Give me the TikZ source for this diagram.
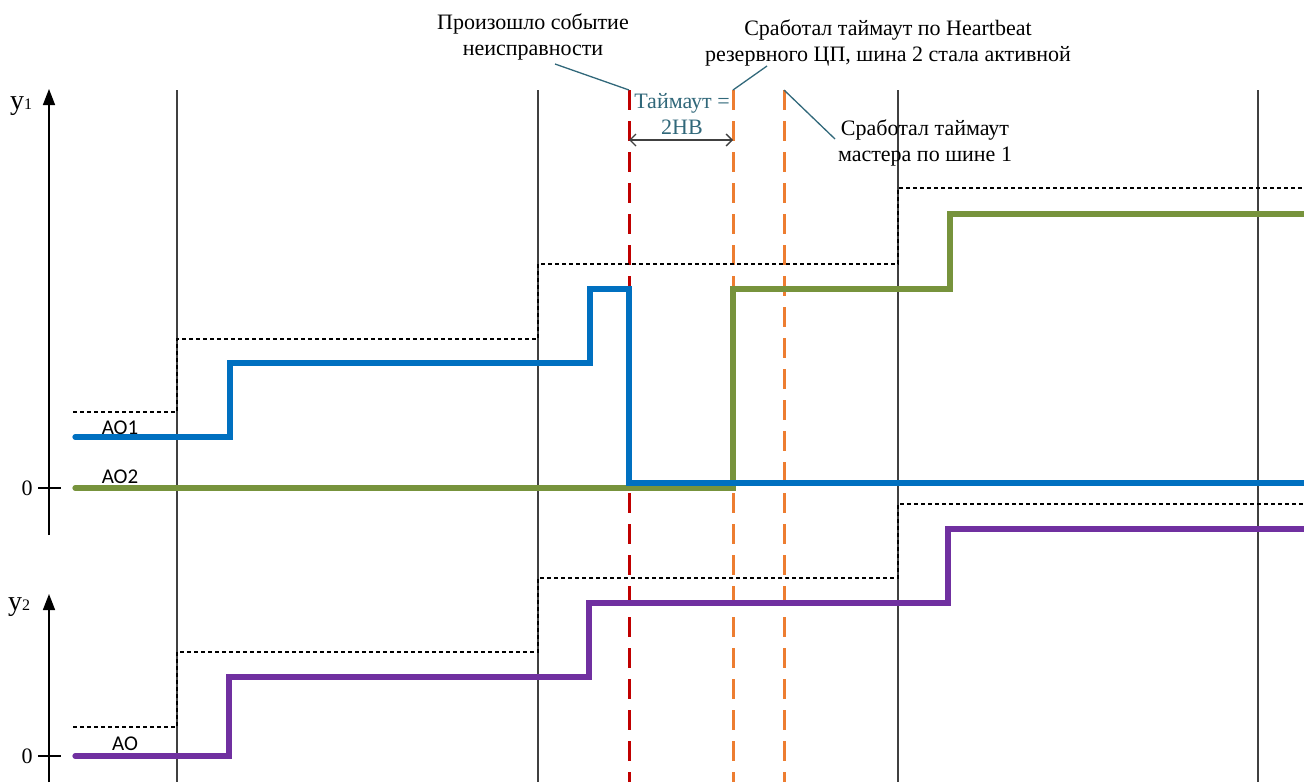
\documentclass[tikz,border=0pt]{standalone}
\usepackage{fontspec}
\setmainfont{Liberation Serif}
\newfontfamily\lblfont{Carlito}
\usetikzlibrary{arrows.meta}
\definecolor{aoblue}{HTML}{0070C0}
\definecolor{aogreen}{HTML}{77933C}
\definecolor{aopurple}{HTML}{7030A0}
\definecolor{evred}{HTML}{C00000}
\definecolor{evorange}{HTML}{ED7D31}
\definecolor{leadcol}{HTML}{31687A}
\definecolor{gridcol}{HTML}{404040}
\begin{document}
\begin{tikzpicture}[x=1pt,y=-1pt,
  gridline/.style={draw=gridcol,line width=1.5pt},
  axisline/.style={draw=black,line width=1.5pt,-{Triangle[length=16pt,width=12pt]}},
  tickline/.style={draw=black,line width=1.3pt},
  limitline/.style={draw=black,line width=2.8pt,dash pattern=on 4pt off 3pt},
  signal/.style={line width=5.2pt,line join=miter,line cap=round},
  eventline/.style={line width=3pt,dash pattern=on 20pt off 11pt},
  leader/.style={draw=leadcol,line width=1.3pt},
  note/.style={font=\fontsize{22}{26}\selectfont,align=center,inner sep=0pt},
  aolabel/.style={font=\lblfont\fontsize{21}{24}\selectfont,inner sep=0pt},
  axlabel/.style={font=\fontsize{28}{30}\selectfont,inner sep=0pt}]
\useasboundingbox (0,0) rectangle (1304,782);

% vertical grid lines
\foreach \gx in {177,538,898,1258}
  \draw[gridline] (\gx,90) -- (\gx,782);

% event dashed lines
\draw[eventline,draw=evred] (629,90) -- (629,782);
\draw[eventline,draw=evorange] (733,90) -- (733,782);
\draw[eventline,draw=evorange] (784,90) -- (784,782);

% axes
\coordinate (y1base) at (49,535);
\coordinate (y1top) at (49,89);
\coordinate (y2base) at (49,782);
\coordinate (y2top) at (49,594);
\draw[axisline] (y1base) -- (y1top);
\draw[axisline] (y2base) -- (y2top);
\draw[tickline] (38,488) -- (61,488);
\draw[tickline] (38,756) -- (61,756);
\node[axlabel,anchor=base west] (ylab1) at (10,109) {y{\fontsize{16}{16}\selectfont 1}};
\node[axlabel,anchor=base west] (ylab2) at (8,610) {y{\fontsize{16}{16}\selectfont 2}};
\node[note,anchor=base] (zero1) at (27,495) {0};
\node[note,anchor=base] (zero2) at (27,763) {0};

% limit (dotted) lines
\draw[limitline] (73,412) -- (177,412) -- (177,339) -- (538,339) -- (538,264)
  -- (898,264) -- (898,188) -- (1304,188);
\draw[limitline] (73,727) -- (177,727) -- (177,652) -- (538,652) -- (538,578)
  -- (898,578) -- (898,504) -- (1304,504);

% signals
\draw[signal,draw=aogreen] (75,488) -- (733,488) -- (733,289) -- (950,289)
  -- (950,214) -- (1306,214);
\draw[signal,draw=aoblue] (75,437) -- (230,437) -- (230,363) -- (590,363)
  -- (590,289) -- (629,289) -- (629,483) -- (1306,483);
\draw[signal,draw=aopurple] (75,756) -- (229,756) -- (229,677) -- (589,677)
  -- (589,603) -- (948,603) -- (948,529) -- (1306,529);

\node[aolabel,anchor=base] (ao1) at (120,434) {AO1};
\node[aolabel,anchor=base] (ao2) at (120,483) {AO2};
\node[aolabel,anchor=base] (ao) at (125,750) {AO};

% timeout annotation
\coordinate (tleft) at (629,140);
\coordinate (tright) at (733,140);
\draw[draw=black!75,line width=1.4pt,{Straight Barb[length=6pt,width=12pt]}-{Straight Barb[length=6pt,width=12pt]}] (tleft) -- (tright);
\node[note,text=leadcol,anchor=base] (tmo) at (682,134) {Таймаут =\\2HB};

% notes
\node[note,anchor=base] (n1) at (533,55) {Произошло событие\\неисправности};
\node[note,anchor=base] (n2) at (888,61) {Сработал таймаут по Heartbeat\\резервного ЦП, шина 2 стала активной};
\node[note,anchor=base] (n3) at (925,161) {Сработал таймаут\\мастера по шине 1};
\coordinate (e1) at (629,90);
\coordinate (e2) at (733,90);
\coordinate (e3) at (784,90);
\draw[leader] (555,64) -- (e1);
\draw[leader] (767,66) -- (e2);
\draw[leader] (e3) -- (835,139);
\end{tikzpicture}
\end{document}
